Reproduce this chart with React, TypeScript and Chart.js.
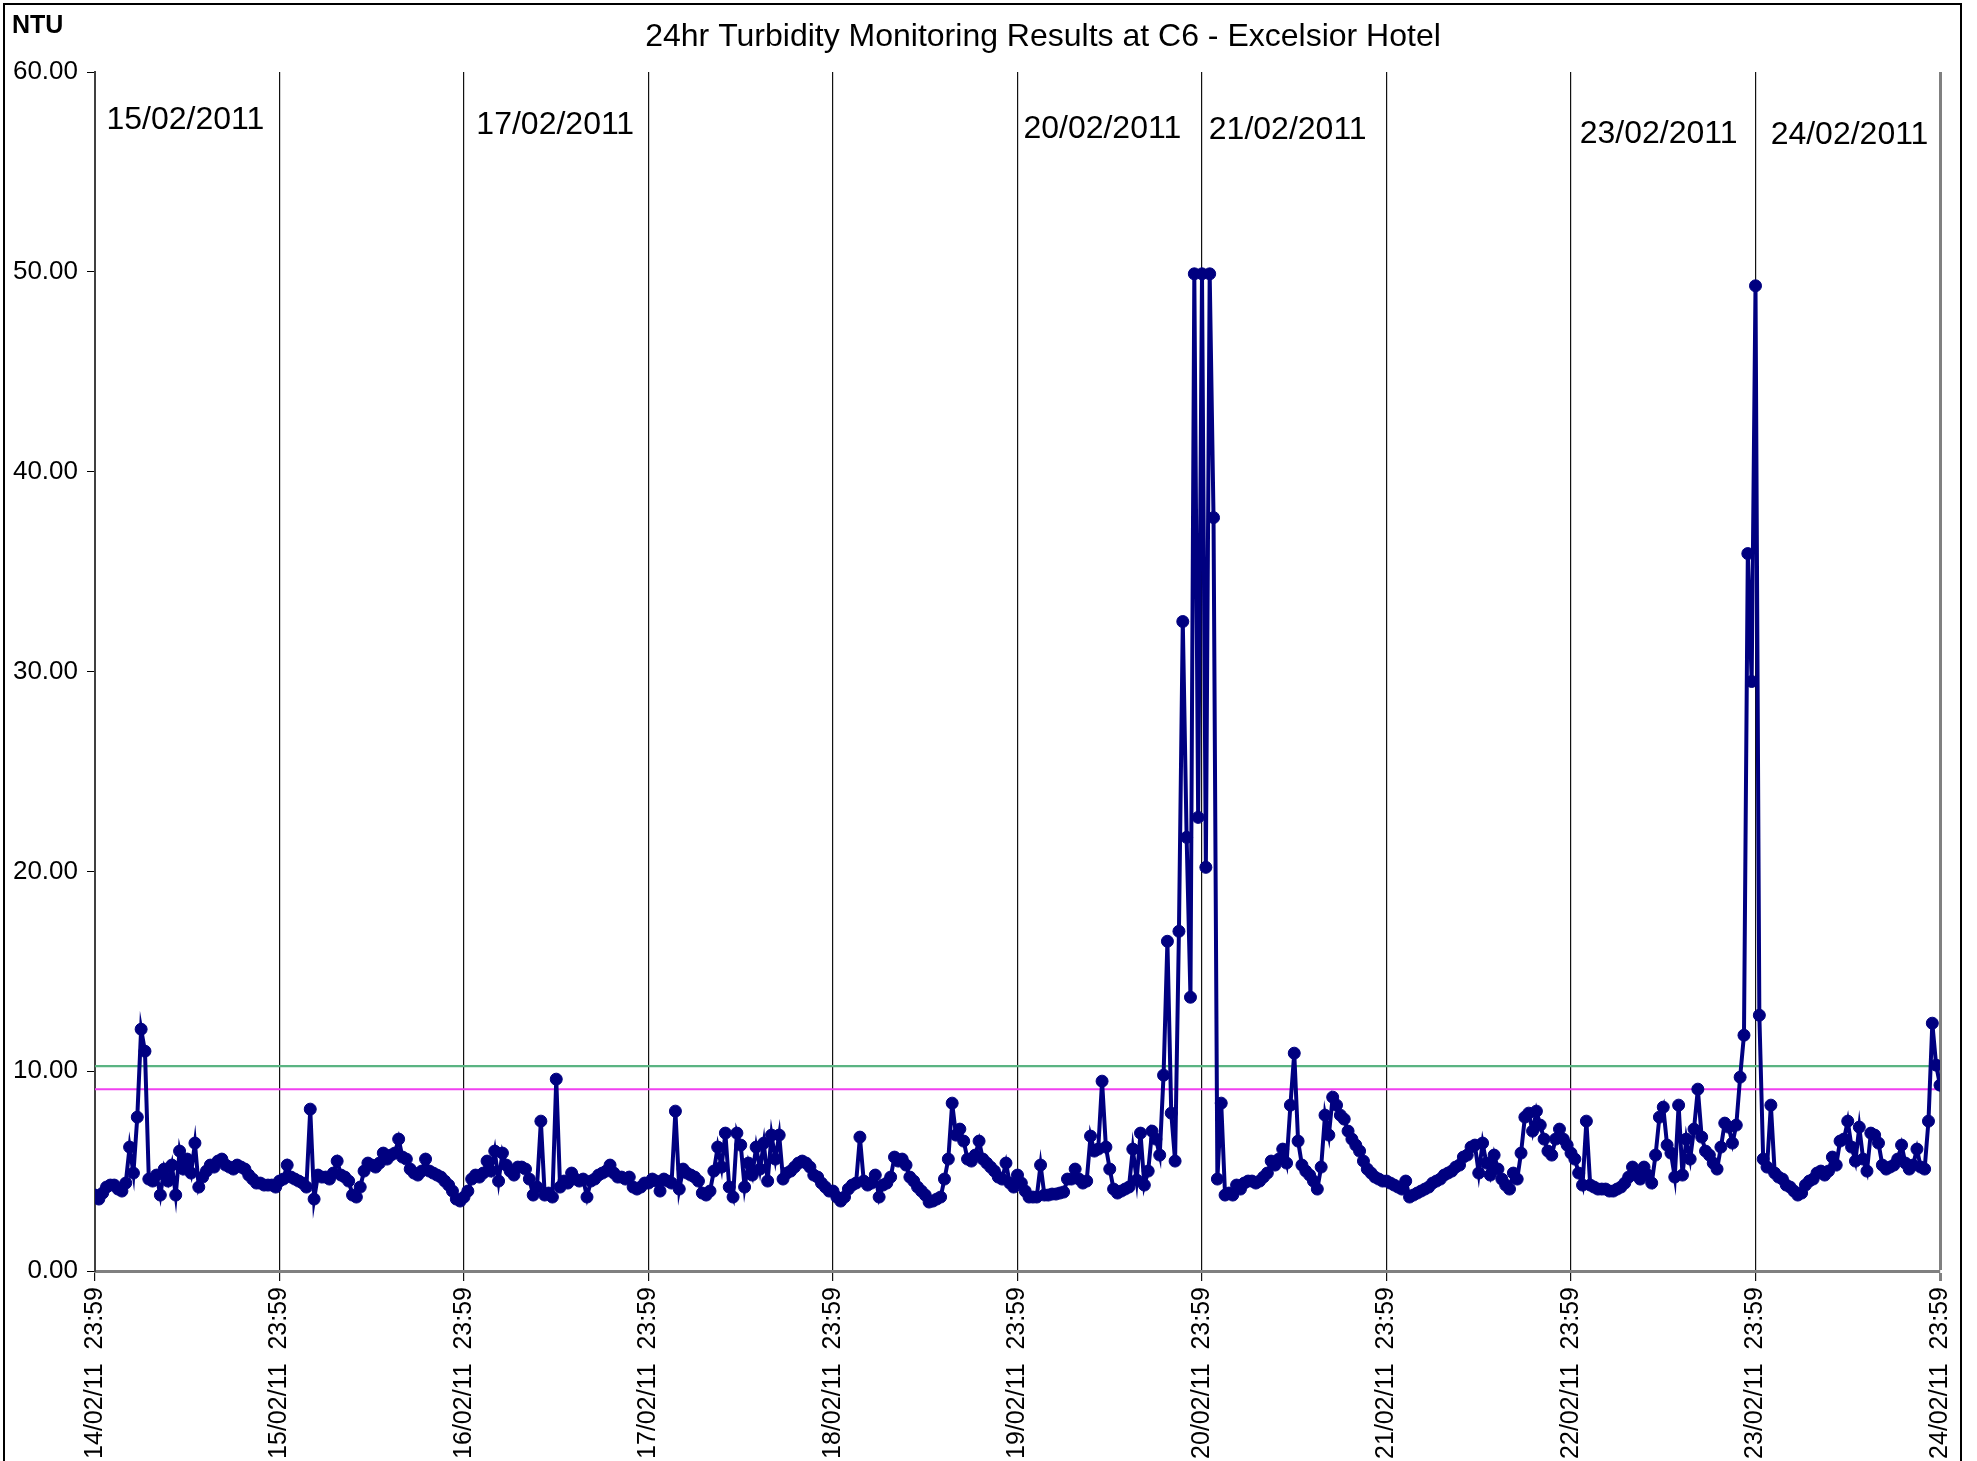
import React, { useEffect, useRef } from "react";
import { Chart, registerables } from "chart.js";

Chart.register(...registerables);

const FONT = '"Liberation Sans", Arial, sans-serif';

const chartTitle = "24hr Turbidity Monitoring Results at C6 - Excelsior Hotel";
const yUnit = "NTU";

const xTickLabels = [
  "14/02/11  23:59",
  "15/02/11  23:59",
  "16/02/11  23:59",
  "17/02/11  23:59",
  "18/02/11  23:59",
  "19/02/11  23:59",
  "20/02/11  23:59",
  "21/02/11  23:59",
  "22/02/11  23:59",
  "23/02/11  23:59",
  "24/02/11  23:59",
];

// half-hourly turbidity readings (NTU), one array per day starting at 23:59
const day0 = [3.8,3.6,3.9,4.2,4.3,4.3,4.1,4.0,4.4,6.2,4.9,7.7,12.1,11.0,4.6,4.5,4.8,3.8,5.1,4.5,5.3,3.8,6.0,5.1,5.6,4.9,6.4,4.2,4.7,5.0,5.3,5.2,5.5,5.6,5.3,5.2,5.1,5.3,5.2,5.1,4.8,4.6,4.4,4.4,4.3,4.3,4.3,4.2];
const day1 = [4.5,4.6,5.3,4.7,4.6,4.5,4.4,4.2,8.1,3.6,4.8,4.7,4.7,4.6,4.9,5.5,4.8,4.7,4.5,3.8,3.7,4.2,5.0,5.4,5.3,5.2,5.4,5.9,5.6,5.8,5.9,6.6,5.7,5.6,5.1,4.9,4.8,5.0,5.6,5.0,4.9,4.8,4.7,4.5,4.3,4.0,3.6,3.5];
const day2 = [3.7,4.0,4.6,4.8,4.7,4.9,5.5,5.0,6.0,4.5,5.9,5.3,5.0,4.8,5.2,5.2,5.1,4.6,3.8,4.2,7.5,3.8,3.9,3.7,9.6,4.2,4.5,4.4,4.9,4.6,4.5,4.6,3.7,4.5,4.6,4.8,4.9,5.0,5.3,4.9,4.7,4.7,4.6,4.7,4.2,4.1,4.2,4.4];
const day3 = [4.4,4.6,4.5,4.0,4.6,4.5,4.4,8.0,4.1,5.1,4.9,4.8,4.7,4.5,3.9,3.8,4.0,5.0,6.2,5.2,6.9,4.2,3.7,6.9,6.3,4.2,5.4,4.8,6.2,5.1,6.4,4.5,6.8,5.6,6.8,4.6,4.9,5.0,5.2,5.4,5.5,5.4,5.2,4.8,4.7,4.4,4.2,4.0];
const day4 = [4.0,3.7,3.5,3.7,4.1,4.3,4.4,6.7,4.5,4.3,4.4,4.8,3.7,4.3,4.4,4.7,5.7,5.5,5.6,5.3,4.7,4.5,4.2,4.0,3.8,3.45,3.5,3.6,3.7,4.6,5.6,8.4,6.8,7.1,6.5,5.6,5.5,5.8,6.5,5.6,5.4,5.2,5.0,4.7,4.6,5.4,4.4,4.2];
const day5 = [4.8,4.4,4.0,3.7,3.7,3.7,5.3,3.8,3.8,3.85,3.85,3.9,3.95,4.6,4.6,5.1,4.6,4.4,4.5,6.75,6.0,6.1,9.5,6.2,5.1,4.1,3.9,4.0,4.1,4.2,6.1,4.55,6.9,4.3,5.0,7.0,6.6,5.8,9.8,16.5,7.9,5.5,17.0,32.5,21.7,13.7,49.9,22.7];
const day6 = [49.9,20.2,49.9,37.7,4.6,8.4,3.8,3.9,3.8,4.3,4.1,4.4,4.5,4.5,4.4,4.5,4.7,4.9,5.5,5.3,5.6,6.1,5.4,8.3,10.9,6.5,5.3,5.0,4.8,4.5,4.1,5.2,7.8,6.8,8.7,8.3,7.8,7.6,7.0,6.6,6.3,6.0,5.5,5.1,4.9,4.7,4.6,4.5];
const day7 = [4.5,4.4,4.3,4.2,4.1,4.5,3.7,3.8,3.9,4.0,4.1,4.2,4.4,4.5,4.6,4.8,4.9,5.0,5.2,5.3,5.7,5.8,6.2,6.3,4.9,6.4,5.4,4.8,5.8,5.1,4.6,4.3,4.1,4.9,4.6,5.9,7.7,7.9,7.0,8.0,7.3,6.6,6.0,5.8,6.6,7.1,6.6,6.3];
const day8 = [5.9,5.6,4.9,4.3,7.5,4.3,4.2,4.1,4.1,4.1,4.0,4.0,4.1,4.2,4.4,4.7,5.2,4.8,4.6,5.2,4.8,4.4,5.8,7.7,8.2,6.3,5.9,4.7,8.3,4.8,6.6,5.6,7.1,9.1,6.7,6.0,5.8,5.4,5.1,6.2,7.4,7.2,6.4,7.3,9.7,11.8,35.9,29.5];
const day9 = [49.3,12.8,5.6,5.2,8.3,4.9,4.7,4.6,4.3,4.2,4.0,3.8,3.9,4.3,4.5,4.6,4.9,5.0,4.8,5.0,5.7,5.3,6.5,6.6,7.5,6.2,5.5,7.2,5.6,5.0,6.9,6.8,6.4,5.3,5.1,5.2,5.3,5.6,6.3,5.4,5.1,5.3,6.1,5.2,5.1,7.5,12.4,10.3];
const finalReading = 9.3;

const dailySeries = [day0, day1, day2, day3, day4, day5, day6, day7, day8, day9];

// reference levels (NTU)
const limitLevel = 10.25;
const actionLevel = 9.1;

// date annotations: text, day position on x axis, NTU height
const noteLabels = ["15/02/2011", "17/02/2011", "20/02/2011", "21/02/2011", "23/02/2011", "24/02/2011"];
const noteX = [0.062, 2.067, 5.032, 6.037, 8.047, 9.082];
const noteY = [57.6, 57.35, 57.15, 57.1, 56.9, 56.85];

function buildPoints() {
  const pts: { x: number; y: number }[] = [];
  dailySeries.forEach((arr, d) => {
    arr.forEach((v, i) => pts.push({ x: d + i / arr.length, y: v }));
  });
  pts.push({ x: dailySeries.length, y: finalReading });
  return pts;
}

const textPlugin = {
  id: "texts",
  afterDraw(chart: any) {
    const { ctx, scales } = chart;
    ctx.save();
    // outer frame
    ctx.strokeStyle = "#000";
    ctx.lineWidth = 2;
    ctx.beginPath();
    ctx.moveTo(4, 1470);
    ctx.lineTo(4, 4);
    ctx.lineTo(1961, 4);
    ctx.lineTo(1961, 1470);
    ctx.stroke();
    // title
    ctx.fillStyle = "#000";
    ctx.font = `32px ${FONT}`;
    ctx.textAlign = "center";
    ctx.textBaseline = "middle";
    ctx.fillText(chartTitle, 1043, 37);
    // unit
    ctx.font = `bold 25px ${FONT}`;
    ctx.textAlign = "left";
    ctx.fillText(yUnit, 12, 26);
    // date notes
    ctx.font = `32px ${FONT}`;
    noteLabels.forEach((t, i) => {
      ctx.fillText(t, scales.x.getPixelForValue(noteX[i]), scales.y.getPixelForValue(noteY[i]));
    });
    ctx.restore();
  },
};

export default function App() {
  const ref = useRef<HTMLCanvasElement>(null);
  useEffect(() => {
    document.body.style.margin = "0";
    document.body.style.overflow = "hidden";
    const pts = buildPoints();
    const days = dailySeries.length;
    const chart = new Chart(ref.current!, {
      type: "line",
      data: {
        datasets: [
          {
            data: pts,
            borderColor: "#000080",
            backgroundColor: "#000080",
            pointBackgroundColor: "#000080",
            pointBorderColor: "#000080",
            borderWidth: 4,
            pointRadius: 6,
            pointBorderWidth: 1,
            tension: 0,
            order: 0,
          },
          {
            data: [{ x: 0, y: limitLevel }, { x: days, y: limitLevel }],
            borderColor: "#5ab482",
            borderWidth: 2.2,
            pointRadius: 0,
            order: 1,
          },
          {
            data: [{ x: 0, y: actionLevel }, { x: days, y: actionLevel }],
            borderColor: "#f040f0",
            borderWidth: 2,
            pointRadius: 0,
            order: 1,
          },
        ],
      },
      options: {
        responsive: false,
        animation: false,
        events: [],
        layout: { padding: { top: 72, right: 37, left: 0, bottom: 0 } },
        plugins: { legend: { display: false }, tooltip: { enabled: false }, title: { display: false } },
        scales: {
          x: {
            type: "linear",
            min: 0,
            max: days,
            afterFit: (s: any) => {
              s.height = 190;
            },
            ticks: {
              stepSize: 1,
              autoSkip: false,
              maxRotation: 90,
              minRotation: 90,
              color: "#000",
              padding: 6,
              font: { family: FONT, size: 25 },
              callback: (v: any) => xTickLabels[Number(v)] ?? "",
            },
            grid: {
              display: true,
              drawOnChartArea: true,
              drawTicks: true,
              tickLength: 10,
              color: (c: any) => (c.index === days ? "#808080" : "#111111"),
              lineWidth: (c: any) => (c.index === days ? 3 : 1.2),
            },
            border: { display: true, color: "#808080", width: 3 },
          },
          y: {
            min: 0,
            max: 60,
            afterFit: (s: any) => {
              s.width = 95;
            },
            ticks: {
              stepSize: 10,
              color: "#000",
              padding: 9,
              font: { family: FONT, size: 26 },
              callback: (v: any) => Number(v).toFixed(2),
            },
            grid: { display: true, drawOnChartArea: false, drawTicks: true, tickLength: 8, color: "#000" },
            border: { display: true, color: "#404040", width: 2 },
          },
        },
      },
      plugins: [textPlugin],
    });
    return () => chart.destroy();
  }, []);
  return (
    <div style={{ width: 1977, height: 1461, background: "#fff" }}>
      <canvas ref={ref} width={1977} height={1461} style={{ display: "block" }} />
    </div>
  );
}
